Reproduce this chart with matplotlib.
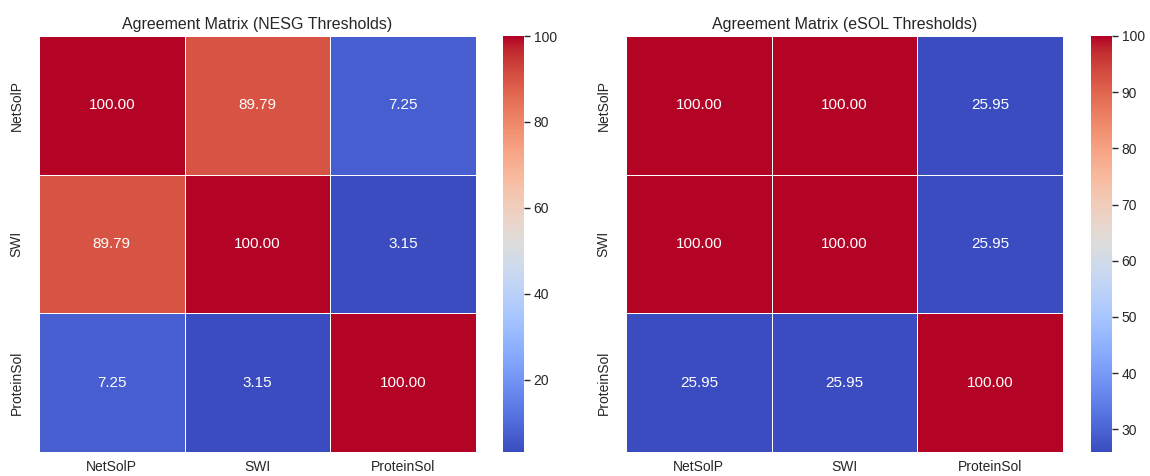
import numpy as np
import matplotlib
matplotlib.use("Agg")
import matplotlib.pyplot as plt
import seaborn as sns

tools = ["NetSolP", "SWI", "ProteinSol"]

nesg_agreement = [
    [100.00, 89.79, 7.25],
    [89.79, 100.00, 3.15],
    [7.25, 3.15, 100.00],
]
esol_agreement = [
    [100.00, 100.00, 25.95],
    [100.00, 100.00, 25.95],
    [25.95, 25.95, 100.00],
]

sns.set_theme(style="white")
plt.rcParams["font.family"] = ["Liberation Sans", "DejaVu Sans"]

W, H = 1150, 476
fig = plt.figure(figsize=(W / 100, H / 100), dpi=100)


def px_axes(x0, x1, y0, y1):
    # axes box given in pixel coords measured from the top-left corner
    return fig.add_axes([x0 / W, 1 - y1 / H, (x1 - x0) / W, (y1 - y0) / H])


panels = [
    (nesg_agreement, "Agreement Matrix (NESG Thresholds)", (39, 476), (503, 524)),
    (esol_agreement, "Agreement Matrix (eSOL Thresholds)", (626, 1063), (1091, 1112)),
]

for mat, title, (hx0, hx1), (cx0, cx1) in panels:
    ax = px_axes(hx0, hx1, 36, 452)
    cax = px_axes(cx0, cx1, 36, 452)
    sns.heatmap(np.array(mat), annot=True, fmt=".2f", cmap="coolwarm",
                linewidths=0.5, linecolor="white",
                xticklabels=tools, yticklabels=tools, ax=ax, cbar_ax=cax,
                annot_kws={"fontsize": 11})
    ax.set_title(title, fontsize=11.5, color="#262626", pad=5)
    ax.tick_params(axis="x", labelsize=10, colors="#262626", length=0, pad=6)
    ax.tick_params(axis="y", labelsize=10, colors="#262626", pad=5)
    cax.tick_params(axis="y", right=True, length=4, width=1, color="#262626",
                    labelsize=10, labelcolor="#262626", pad=3)
    cax.collections[0].set_edgecolor("face")

fig.savefig("out.png", dpi=100)
